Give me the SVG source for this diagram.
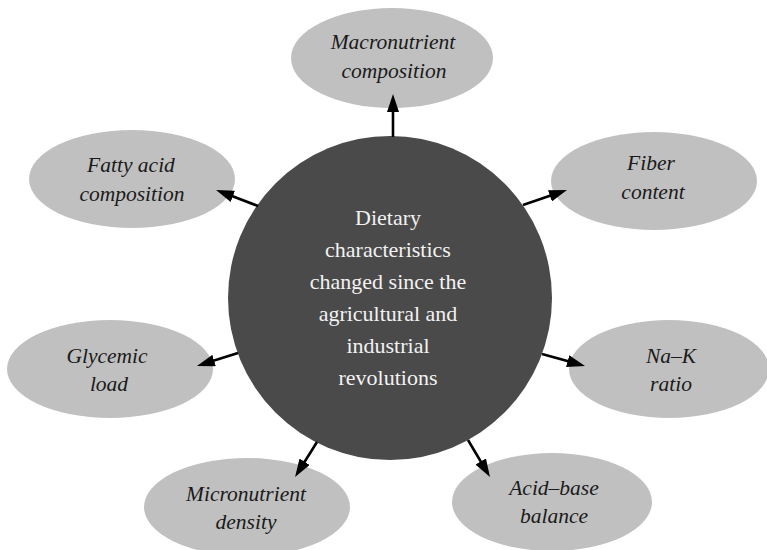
<svg xmlns="http://www.w3.org/2000/svg" width="767" height="550" viewBox="0 0 767 550">
<style>
.sat{fill:#c0c0c0;}
.lbl{font-family:"Liberation Serif","DejaVu Serif",serif;font-style:italic;font-size:21.5px;fill:#1a1a1a;text-anchor:middle;}
.core{fill:#4a4a4a;}
.ctr{font-family:"Liberation Serif","DejaVu Serif",serif;font-size:22px;fill:#f2f2f2;text-anchor:middle;}
.con{stroke:#000;stroke-width:2.6;fill:none;}
</style>
<defs>
<marker id="ah" viewBox="0 0 18 12" refX="10" refY="6" markerWidth="18" markerHeight="12" markerUnits="userSpaceOnUse" orient="auto">
<path d="M0,0 L18,6 L0,12 Z" fill="#000"/>
</marker>
</defs>
<rect width="767" height="550" fill="#fff"/>
<g id="macronutrient">
<ellipse class="sat" cx="392" cy="58" rx="101" ry="50"/>
<text class="lbl" x="393" y="49">Macronutrient</text>
<text class="lbl" x="394" y="78">composition</text>
</g>
<g id="fatty-acid">
<ellipse class="sat" cx="132" cy="179" rx="103" ry="49"/>
<text class="lbl" x="131" y="172">Fatty acid</text>
<text class="lbl" x="132" y="201">composition</text>
</g>
<g id="fiber">
<ellipse class="sat" cx="654" cy="181" rx="103" ry="49"/>
<text class="lbl" x="651" y="170">Fiber</text>
<text class="lbl" x="653" y="199">content</text>
</g>
<g id="glycemic">
<ellipse class="sat" cx="110" cy="369" rx="103" ry="49"/>
<text class="lbl" x="107" y="363">Glycemic</text>
<text class="lbl" x="109" y="391">load</text>
</g>
<g id="na-k">
<ellipse class="sat" cx="669" cy="369" rx="100" ry="49"/>
<text class="lbl" x="671" y="363">Na–K</text>
<text class="lbl" x="671" y="391">ratio</text>
</g>
<g id="micronutrient">
<ellipse class="sat" cx="247" cy="507" rx="103" ry="49"/>
<text class="lbl" x="246" y="501">Micronutrient</text>
<text class="lbl" x="246" y="529">density</text>
</g>
<g id="acid-base">
<ellipse class="sat" cx="552" cy="502" rx="100" ry="49"/>
<text class="lbl" x="554" y="495">Acid–base</text>
<text class="lbl" x="554" y="523">balance</text>
</g>
<g id="center">
<circle class="core" cx="390" cy="298" r="162"/>
<text class="ctr" x="388" y="225">Dietary</text>
<text class="ctr" x="388" y="257">characteristics</text>
<text class="ctr" x="388" y="289">changed since the</text>
<text class="ctr" x="388" y="321">agricultural and</text>
<text class="ctr" x="388" y="353">industrial</text>
<text class="ctr" x="388" y="385">revolutions</text>
</g>
<g id="connectors">
<line class="con" x1="393" y1="137" x2="393" y2="102" marker-end="url(#ah)"/>
<line class="con" x1="523" y1="205" x2="559.4" y2="192.6" marker-end="url(#ah)"/>
<line class="con" x1="258" y1="206" x2="223.5" y2="192.8" marker-end="url(#ah)"/>
<line class="con" x1="238" y1="353" x2="204.6" y2="363.6" marker-end="url(#ah)"/>
<line class="con" x1="542" y1="354" x2="577.3" y2="363.8" marker-end="url(#ah)"/>
<line class="con" x1="317" y1="442" x2="299.3" y2="470.2" marker-end="url(#ah)"/>
<line class="con" x1="468" y1="440" x2="485.9" y2="470.1" marker-end="url(#ah)"/>
</g>
</svg>
